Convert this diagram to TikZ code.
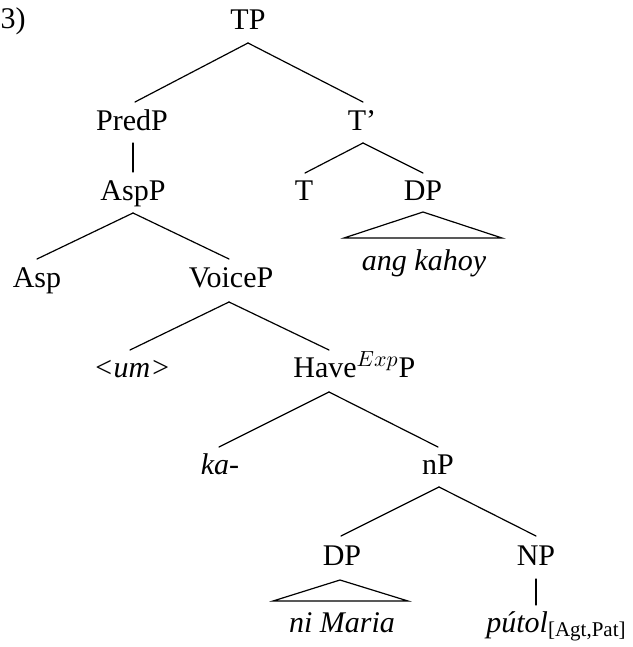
\documentclass[tikz,border=0pt]{standalone}
\usepackage{fontspec}
\setmainfont{Liberation Serif}
\usetikzlibrary{calc}

\begin{document}
\begin{tikzpicture}[x=0.5pt,y=-0.5pt,
  lab/.style={anchor=base,inner sep=0pt,font=\fontsize{15}{18}\selectfont},
  labw/.style={lab,anchor=base west},
  branch/.style={line width=0.6pt,line cap=round},
]
\useasboundingbox (0,0) rectangle (632,647);

% example number
\node[lab,anchor=base east] (exnum) at (26,29) {(3)};

% labels, placed by baseline
\node[lab] (tp)     at (248,30)  {TP};
\node[lab] (predp)  at (132,130) {PredP};
\node[lab] (tbar)   at (362,130) {T'};
\node[lab] (aspp)   at (133,200) {AspP};
\node[lab] (t)      at (304,200) {T};
\node[lab] (dpa)    at (423,200) {DP};
\node[lab] (kahoy)  at (424,270) {\itshape ang kahoy};
\node[lab] (asp)    at (37,287)  {Asp};
\node[lab] (voicep) at (231,287) {VoiceP};
\node[lab] (um)     at (132,377) {\itshape <um>};
\node[labw] (have)  at (293,377) {Have$^{Exp}$P};
\node[lab] (ka)     at (220,474) {\itshape ka-};
\node[lab] (np)     at (438,474) {nP};
\node[lab] (dpb)    at (342,565) {DP};
\node[lab] (nnp)    at (536,565) {NP};
\node[lab] (maria)  at (342,632) {\itshape ni Maria};
\node[labw] (putol) at (486,632) {\itshape pútol\/\textsubscript{\upshape[Agt,Pat]}};

% branches: parent apex sits below the baseline, child end above the cap line
\draw[branch] ($(tp.base)+(0,13)$) -- ($(predp.base)+(3,-28)$);
\draw[branch] ($(tp.base)+(0,13)$) -- ($(tbar.base)+(1,-28)$);
\draw[branch] ($(predp.base)+(1,13)$) -- ($(aspp.base)+(0,-28)$);
\draw[branch] ($(tbar.base)+(1,13)$) -- ($(t.base)+(1,-27)$);
\draw[branch] ($(tbar.base)+(1,13)$) -- ($(dpa.base)+(0,-27)$);
\draw[branch] ($(aspp.base)+(0,13)$) -- ($(asp.base)+(0,-28)$);
\draw[branch] ($(aspp.base)+(0,13)$) -- ($(voicep.base)+(-2,-28)$);
\draw[branch] ($(voicep.base)+(-2,15)$) -- ($(um.base)+(-2,-27)$);
\draw[branch] ($(voicep.base)+(-2,15)$) -- ($(have.base west)+(36,-27)$);
\draw[branch] ($(have.base west)+(36,15)$) -- ($(ka.base)+(-1,-27)$);
\draw[branch] ($(have.base west)+(36,15)$) -- ($(np.base)+(0,-27)$);
\draw[branch] ($(np.base)+(1,13)$) -- ($(dpb.base)+(-1,-29)$);
\draw[branch] ($(np.base)+(1,13)$) -- ($(nnp.base)+(0,-29)$);
\draw[branch] ($(nnp.base)+(0,14)$) -- ($(putol.base west)+(50,-27)$);

% roofs over unanalysed phrases
\draw[branch,line join=miter] ($(dpa.base)+(0,12)$) -- ($(kahoy.base)+(-80,-32)$)
  -- ($(kahoy.base)+(78,-32)$) -- cycle;
\draw[branch,line join=miter] ($(dpb.base)+(-2,15)$) -- ($(maria.base)+(-69,-31)$)
  -- ($(maria.base)+(66,-31)$) -- cycle;
\end{tikzpicture}
\end{document}
